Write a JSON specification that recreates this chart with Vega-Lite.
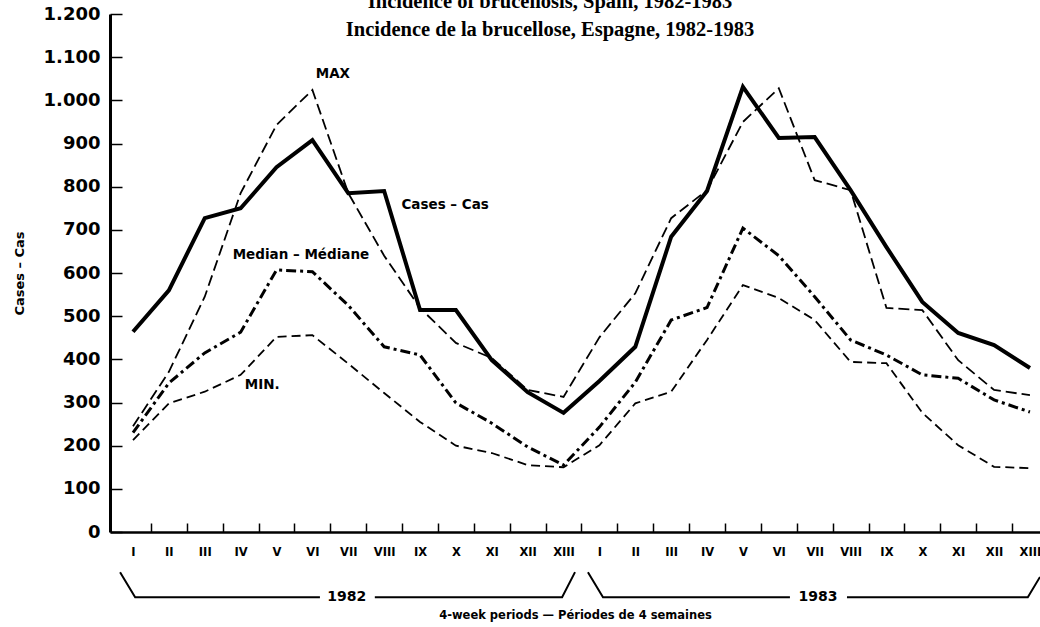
{
  "$schema": "https://vega.github.io/schema/vega-lite/v6.json",
  "width": 930,
  "height": 518,
  "autosize": {"type": "none"},
  "padding": {"left": 110, "top": 14, "right": 0, "bottom": 95},
  "background": "white",
  "config": {"view": {"stroke": null}, "font": "DejaVu Sans"},
  "title": {
    "text": ["Incidence of brucellosis, Spain, 1982-1983", "Incidence de la brucellose, Espagne, 1982-1983"],
    "font": "Liberation Serif",
    "fontSize": 20.5,
    "fontWeight": "bold",
    "color": "black",
    "anchor": "middle",
    "dx": -25,
    "offset": -35,
    "lineHeight": 27.5
  },
  "datasets": {
    "series": [
      {"s": "Cases", "p": 1, "v": 464}, {"s": "Cases", "p": 2, "v": 560}, {"s": "Cases", "p": 3, "v": 727}, {"s": "Cases", "p": 4, "v": 750}, {"s": "Cases", "p": 5, "v": 845}, {"s": "Cases", "p": 6, "v": 908}, {"s": "Cases", "p": 7, "v": 785}, {"s": "Cases", "p": 8, "v": 790}, {"s": "Cases", "p": 9, "v": 514}, {"s": "Cases", "p": 10, "v": 514}, {"s": "Cases", "p": 11, "v": 398}, {"s": "Cases", "p": 12, "v": 324}, {"s": "Cases", "p": 13, "v": 276},
      {"s": "Cases", "p": 14, "v": 350}, {"s": "Cases", "p": 15, "v": 429}, {"s": "Cases", "p": 16, "v": 684}, {"s": "Cases", "p": 17, "v": 790}, {"s": "Cases", "p": 18, "v": 1031}, {"s": "Cases", "p": 19, "v": 913}, {"s": "Cases", "p": 20, "v": 915}, {"s": "Cases", "p": 21, "v": 792}, {"s": "Cases", "p": 22, "v": 660}, {"s": "Cases", "p": 23, "v": 533}, {"s": "Cases", "p": 24, "v": 461}, {"s": "Cases", "p": 25, "v": 433}, {"s": "Cases", "p": 26, "v": 380},
      {"s": "MAX", "p": 1, "v": 245}, {"s": "MAX", "p": 2, "v": 371}, {"s": "MAX", "p": 3, "v": 545}, {"s": "MAX", "p": 4, "v": 785}, {"s": "MAX", "p": 5, "v": 943}, {"s": "MAX", "p": 6, "v": 1024}, {"s": "MAX", "p": 7, "v": 785}, {"s": "MAX", "p": 8, "v": 640}, {"s": "MAX", "p": 9, "v": 519}, {"s": "MAX", "p": 10, "v": 438}, {"s": "MAX", "p": 11, "v": 403}, {"s": "MAX", "p": 12, "v": 329}, {"s": "MAX", "p": 13, "v": 313},
      {"s": "MAX", "p": 14, "v": 451}, {"s": "MAX", "p": 15, "v": 553}, {"s": "MAX", "p": 16, "v": 727}, {"s": "MAX", "p": 17, "v": 792}, {"s": "MAX", "p": 18, "v": 950}, {"s": "MAX", "p": 19, "v": 1028}, {"s": "MAX", "p": 20, "v": 815}, {"s": "MAX", "p": 21, "v": 792}, {"s": "MAX", "p": 22, "v": 519}, {"s": "MAX", "p": 23, "v": 514}, {"s": "MAX", "p": 24, "v": 398}, {"s": "MAX", "p": 25, "v": 329}, {"s": "MAX", "p": 26, "v": 317},
      {"s": "Median", "p": 1, "v": 230}, {"s": "Median", "p": 2, "v": 345}, {"s": "Median", "p": 3, "v": 415}, {"s": "Median", "p": 4, "v": 463}, {"s": "Median", "p": 5, "v": 607}, {"s": "Median", "p": 6, "v": 603}, {"s": "Median", "p": 7, "v": 525}, {"s": "Median", "p": 8, "v": 429}, {"s": "Median", "p": 9, "v": 410}, {"s": "Median", "p": 10, "v": 299}, {"s": "Median", "p": 11, "v": 252}, {"s": "Median", "p": 12, "v": 197}, {"s": "Median", "p": 13, "v": 155},
      {"s": "Median", "p": 14, "v": 243}, {"s": "Median", "p": 15, "v": 347}, {"s": "Median", "p": 16, "v": 491}, {"s": "Median", "p": 17, "v": 520}, {"s": "Median", "p": 18, "v": 704}, {"s": "Median", "p": 19, "v": 640}, {"s": "Median", "p": 20, "v": 545}, {"s": "Median", "p": 21, "v": 445}, {"s": "Median", "p": 22, "v": 410}, {"s": "Median", "p": 23, "v": 364}, {"s": "Median", "p": 24, "v": 356}, {"s": "Median", "p": 25, "v": 306}, {"s": "Median", "p": 26, "v": 278},
      {"s": "MIN", "p": 1, "v": 213}, {"s": "MIN", "p": 2, "v": 298}, {"s": "MIN", "p": 3, "v": 325}, {"s": "MIN", "p": 4, "v": 364}, {"s": "MIN", "p": 5, "v": 452}, {"s": "MIN", "p": 6, "v": 456}, {"s": "MIN", "p": 7, "v": 390}, {"s": "MIN", "p": 8, "v": 322}, {"s": "MIN", "p": 9, "v": 255}, {"s": "MIN", "p": 10, "v": 200}, {"s": "MIN", "p": 11, "v": 183}, {"s": "MIN", "p": 12, "v": 155}, {"s": "MIN", "p": 13, "v": 150},
      {"s": "MIN", "p": 14, "v": 201}, {"s": "MIN", "p": 15, "v": 298}, {"s": "MIN", "p": 16, "v": 325}, {"s": "MIN", "p": 17, "v": 445}, {"s": "MIN", "p": 18, "v": 572}, {"s": "MIN", "p": 19, "v": 542}, {"s": "MIN", "p": 20, "v": 491}, {"s": "MIN", "p": 21, "v": 394}, {"s": "MIN", "p": 22, "v": 391}, {"s": "MIN", "p": 23, "v": 276}, {"s": "MIN", "p": 24, "v": 201}, {"s": "MIN", "p": 25, "v": 151}, {"s": "MIN", "p": 26, "v": 148}
    ],
    "notes": [
      {"t": "MAX", "p": 6.57, "v": 1061},
      {"t": "Cases – Cas", "p": 9.7, "v": 757},
      {"t": "Median – Médiane", "p": 5.68, "v": 642},
      {"t": "MIN.", "p": 4.6, "v": 340}
    ],
    "brackets": [
      {"seg": "a", "p": 0.64, "v": -93}, {"seg": "a", "p": 1.06, "v": -151}, {"seg": "a", "p": 6.21, "v": -151},
      {"seg": "b", "p": 7.74, "v": -151}, {"seg": "b", "p": 12.96, "v": -151}, {"seg": "b", "p": 13.32, "v": -93},
      {"seg": "c", "p": 13.68, "v": -93}, {"seg": "c", "p": 14.1, "v": -151}, {"seg": "c", "p": 19.31, "v": -151},
      {"seg": "d", "p": 20.9, "v": -151}, {"seg": "d", "p": 25.94, "v": -151}, {"seg": "d", "p": 26.28, "v": -104}
    ],
    "years": [
      {"t": "1982", "p": 6.96, "v": -151},
      {"t": "1983", "p": 20.09, "v": -151}
    ]
  },
  "encoding": {
    "x": {
      "field": "p",
      "type": "quantitative",
      "scale": {"domain": [0.359, 26.28], "nice": false, "zero": false},
      "axis": {
        "values": [1,2,3,4,5,6,7,8,9,10,11,12,13,14,15,16,17,18,19,20,21,22,23,24,25,26],
        "labelExpr": "['I','II','III','IV','V','VI','VII','VIII','IX','X','XI','XII','XIII'][(datum.value-1)%13]",
        "tickOffset": 17.94,
        "labelOffset": -17.94,
        "tickSize": -9,
        "tickWidth": 1.5,
        "tickColor": "black",
        "domainColor": "black",
        "domainWidth": 2.5,
        "grid": false,
        "labelFont": "DejaVu Sans",
        "labelFontWeight": "bold",
        "labelFontSize": 11.5,
        "labelColor": "black",
        "labelPadding": 23,
        "labelFlush": false,
        "labelOverlap": false,
        "title": "4-week periods — Périodes de 4 semaines",
        "titleFont": "DejaVu Sans",
        "titleFontWeight": "bold",
        "titleFontSize": 11.5,
        "titleColor": "black",
        "titlePadding": 52
      }
    },
    "y": {
      "field": "v",
      "type": "quantitative",
      "scale": {"domain": [0, 1200], "nice": false, "zero": true},
      "axis": {
        "values": [0,100,200,300,400,500,600,700,800,900,1000,1100,1200],
        "labelExpr": "replace(format(datum.value, ','), ',', '.')",
        "tickSize": -12,
        "tickWidth": 1.5,
        "tickColor": "black",
        "domainColor": "black",
        "domainWidth": 3,
        "grid": false,
        "labelFont": "DejaVu Sans",
        "labelFontWeight": "bold",
        "labelFontSize": 18,
        "labelColor": "black",
        "labelPadding": 22,
        "labelFlush": false,
        "labelOverlap": false,
        "title": "Cases – Cas",
        "titleFont": "DejaVu Sans",
        "titleFontWeight": "bold",
        "titleFontSize": 13,
        "titleColor": "black",
        "titlePadding": 17
      }
    }
  },
  "layer": [
    {
      "data": {"name": "series"},
      "transform": [{"filter": "datum.s == 'MIN'"}],
      "mark": {"type": "line", "color": "black", "strokeWidth": 1.8, "strokeDash": [9, 5]},
      "encoding": {}
    },
    {
      "data": {"name": "series"},
      "transform": [{"filter": "datum.s == 'MAX'"}],
      "mark": {"type": "line", "color": "black", "strokeWidth": 1.8, "strokeDash": [11, 5]},
      "encoding": {}
    },
    {
      "data": {"name": "series"},
      "transform": [{"filter": "datum.s == 'Median'"}],
      "mark": {"type": "line", "color": "black", "strokeWidth": 3, "strokeDash": [10, 4, 3, 4]},
      "encoding": {}
    },
    {
      "data": {"name": "series"},
      "transform": [{"filter": "datum.s == 'Cases'"}],
      "mark": {"type": "line", "color": "black", "strokeWidth": 4, "strokeJoin": "miter"},
      "encoding": {}
    },
    {
      "data": {"name": "notes"},
      "mark": {"type": "text", "font": "DejaVu Sans", "fontWeight": "bold", "fontSize": 13.5, "color": "black"},
      "encoding": {"text": {"field": "t", "type": "nominal"}}
    },
    {
      "data": {"name": "brackets"},
      "mark": {"type": "line", "color": "black", "strokeWidth": 2},
      "encoding": {"detail": {"field": "seg", "type": "nominal"}}
    },
    {
      "data": {"name": "years"},
      "mark": {"type": "text", "font": "DejaVu Sans", "fontWeight": "bold", "fontSize": 14, "color": "black"},
      "encoding": {"text": {"field": "t", "type": "nominal"}}
    }
  ]
}
